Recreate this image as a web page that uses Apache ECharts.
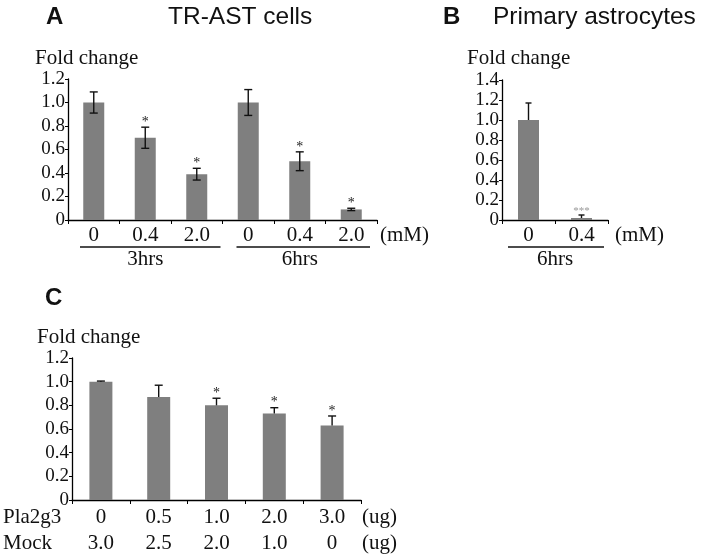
<!DOCTYPE html>
<html><head><meta charset="utf-8">
<script src="https://cdn.jsdelivr.net/npm/echarts@6/dist/echarts.min.js"></script>
<style>html,body{margin:0;padding:0;background:#fff}#c{width:705px;height:560px}</style>
</head><body><div id="c"></div>
<script>
// Panel A
var catsA = ['0', '0.4', '2.0', '0', '0.4', '2.0'];
var valuesA = [1.0, 0.70, 0.39, 1.0, 0.50, 0.09];
var errA = [0.09, 0.09, 0.05, 0.11, 0.08, 0.01];
var sigA = ['', '*', '*', '', '*', '*'];
var groupsA = ['3hrs', '6hrs'];
var ticksA = [0, 0.2, 0.4, 0.6, 0.8, 1.0, 1.2];
// Panel B
var catsB = ['0', '0.4'];
var valuesB = [1.0, 0.02];
var errB = [0.17, 0.03];
var sigB = ['', '***'];
var groupsB = ['6hrs'];
var ticksB = [0, 0.2, 0.4, 0.6, 0.8, 1.0, 1.2, 1.4];
// Panel C
var pla2g3 = ['0', '0.5', '1.0', '2.0', '3.0'];
var mock = ['3.0', '2.5', '2.0', '1.0', '0'];
var valuesC = [1.0, 0.87, 0.80, 0.73, 0.63];
var errC = [0.005, 0.10, 0.06, 0.05, 0.08];
var sigC = ['', '', '*', '*', '*'];
var ticksC = [0, 0.2, 0.4, 0.6, 0.8, 1.0, 1.2];

var SERIF = '"Liberation Serif","Times New Roman",serif';
var SANS = '"Liberation Sans",Arial,sans-serif';
var BAR = '#7f7f7f';

var chart = echarts.init(document.getElementById('c'), null, {renderer: 'canvas'});

function yAxis(gi, ticks) {
  return {
    type: 'value', gridIndex: gi, min: 0, max: ticks[ticks.length - 1], interval: 0.2,
    splitLine: {show: false},
    axisLine: {show: true, lineStyle: {color: '#000', width: 1.3}},
    axisTick: {show: true, inside: false, length: 3, lineStyle: {color: '#000'}},
    axisLabel: {margin: 3, fontFamily: SERIF, fontSize: 19, color: '#111',
      formatter: function (v) { return v === 0 ? '0' : v.toFixed(1); }}
  };
}
function xAxis(gi, cats, extra) {
  var o = {
    type: 'category', gridIndex: gi, data: cats,
    axisLine: {show: true, lineStyle: {color: '#000', width: 1.3}},
    axisTick: {show: true, length: 4, lineStyle: {color: '#000'}},
    axisLabel: {margin: 5, fontFamily: SERIF, fontSize: 21, color: '#111', interval: 0}
  };
  for (var k in extra) o[k] = extra[k];
  return o;
}
function errSeries(xi, vals, errs, sig, both, capW) {
  var data = vals.map(function (v, i) { return [i, v, errs[i], sig[i]]; });
  return {
    type: 'custom', xAxisIndex: xi, yAxisIndex: xi, data: data, z: 5,
    renderItem: function (params, api) {
      var i = api.value(0), v = api.value(1), e = api.value(2);
      var s = data[params.dataIndex][3];
      var top = api.coord([i, v + e]);
      var bot = api.coord([i, both ? v - e : v]);
      var x = top[0];
      var ch = [
        {type: 'line', shape: {x1: x, y1: top[1], x2: x, y2: bot[1]}, style: {stroke: '#111', lineWidth: 1.4}},
        {type: 'line', shape: {x1: x - capW, y1: top[1], x2: x + capW, y2: top[1]}, style: {stroke: '#111', lineWidth: 1.4}}
      ];
      if (both) ch.push({type: 'line', shape: {x1: x - capW, y1: bot[1], x2: x + capW, y2: bot[1]}, style: {stroke: '#111', lineWidth: 1.4}});
      if (s) ch.push({type: 'text', style: {text: s, x: x, y: top[1] + 2, align: 'center', verticalAlign: 'bottom',
        font: (s.length > 1 ? '11px ' : '14px ') + SERIF, fill: s.length > 1 ? '#999' : '#222'}});
      return {type: 'group', children: ch};
    }
  };
}

var option = {
  animation: false,
  backgroundColor: '#fff',
  grid: [
    {left: 68, top: 79, width: 309, height: 141},
    {left: 502, top: 80, width: 106, height: 140},
    {left: 72, top: 358, width: 289, height: 142}
  ],
  xAxis: [
    xAxis(0, catsA, {}),
    xAxis(1, catsB, {}),
    xAxis(2, pla2g3, {axisLabel: {margin: 4, fontFamily: SERIF, fontSize: 21, color: '#111', interval: 0, lineHeight: 26,
      formatter: function (v, i) { return pla2g3[i] + '\n' + mock[i]; }}})
  ],
  yAxis: [yAxis(0, ticksA), yAxis(1, ticksB), yAxis(2, ticksC)],
  series: [
    {type: 'bar', xAxisIndex: 0, yAxisIndex: 0, data: valuesA, barWidth: 21, itemStyle: {color: BAR}},
    {type: 'bar', xAxisIndex: 1, yAxisIndex: 1, data: valuesB, barWidth: 21, itemStyle: {color: BAR}},
    {type: 'bar', xAxisIndex: 2, yAxisIndex: 2, data: valuesC, barWidth: 23, itemStyle: {color: BAR}},
    errSeries(0, valuesA, errA, sigA, true, 4),
    errSeries(1, valuesB, errB, sigB, false, 3),
    errSeries(2, valuesC, errC, sigC, false, 4)
  ]
};
chart.setOption(option);

// annotations computed from axes
function px(gi, ci, v) { return chart.convertToPixel({xAxisIndex: gi, yAxisIndex: gi}, [ci, v]); }
var g = [];
function txt(t, x, y, font, align, color) {
  g.push({type: 'text', x: x, y: y, style: {text: t, font: font, fill: color || '#111', align: align || 'left', verticalAlign: 'middle'}});
}
function hline(x1, x2, y) {
  g.push({type: 'line', shape: {x1: x1, y1: y, x2: x2, y2: y}, style: {stroke: '#111', lineWidth: 1.3}});
}
var serifT = '21px ' + SERIF, serifL = '21px ' + SERIF;
// titles
txt('A', 46, 17, 'bold 24px ' + SANS);
txt('TR-AST cells', 168, 17, '24.5px ' + SANS);
txt('B', 443, 17, 'bold 24px ' + SANS);
txt('Primary astrocytes', 493, 17, '24.5px ' + SANS);
txt('C', 45, 298, 'bold 24px ' + SANS);
txt('Fold change', 35, 58, serifT);
txt('Fold change', 467, 58, serifT);
txt('Fold change', 37, 337, serifT);
// panel A groups
var a0 = px(0, 0, 0), a2 = px(0, 2, 0), a3 = px(0, 3, 0), a5 = px(0, 5, 0);
var halfA = (a3[0] - a0[0]) / 6;
var gy = a0[1] + 27;
hline(a0[0] - halfA + 12, a2[0] + halfA - 2, gy);
hline(a3[0] - halfA + 14, a5[0] + halfA - 7, gy);
txt(groupsA[0], (a0[0] + a2[0]) / 2, gy + 12, serifL, 'center');
txt(groupsA[1], (a3[0] + a5[0]) / 2, gy + 12, serifL, 'center');
txt('(mM)', a5[0] + halfA + 3, a0[1] + 15, serifL);
// panel B
var b0 = px(1, 0, 0), b1 = px(1, 1, 0);
var halfB = (b1[0] - b0[0]) / 2;
hline(b0[0] - halfB + 6, b1[0] + halfB - 4, gy);
txt(groupsB[0], (b0[0] + b1[0]) / 2, gy + 12, serifL, 'center');
txt('(mM)', b1[0] + halfB + 7, b0[1] + 15, serifL);
// panel C
var c0 = px(2, 0, 0), c4 = px(2, 4, 0);
var halfC = (c4[0] - c0[0]) / 8;
txt('Pla2g3', 3, c0[1] + 17, serifL);
txt('Mock', 3, c0[1] + 43, serifL);
txt('(ug)', c4[0] + halfC + 1, c0[1] + 17, serifL);
txt('(ug)', c4[0] + halfC + 1, c0[1] + 43, serifL);
chart.setOption({graphic: g});
</script></body></html>
